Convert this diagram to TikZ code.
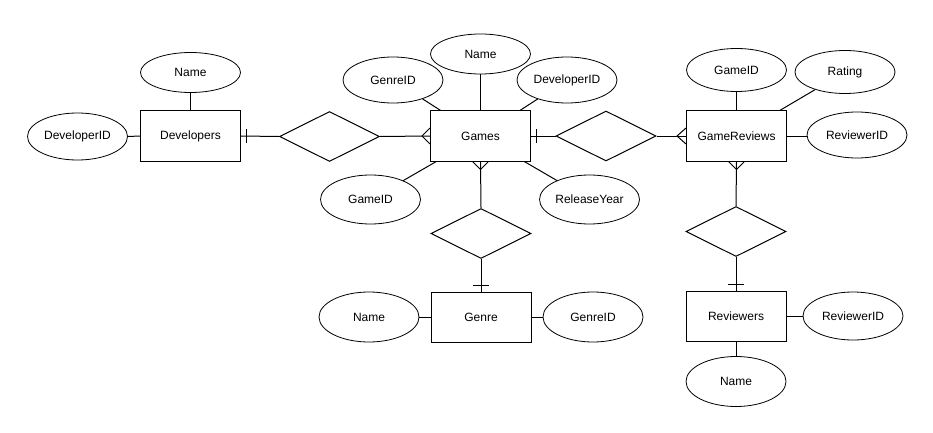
\documentclass[tikz,border=0pt]{standalone}
\usepackage{fontspec}
\setmainfont{Liberation Sans}
\usetikzlibrary{shapes.geometric,calc}
\begin{document}
\begin{tikzpicture}[x=1pt,y=-1pt,
  every node/.style={font=\fontsize{12}{14}\selectfont},
  entity/.style={draw, line width=1pt, rectangle, minimum width=100pt, minimum height=50pt, inner sep=0pt},
  attr/.style={draw, line width=0.8pt, ellipse, minimum width=100pt, inner sep=0pt},
  rel/.style={draw, line width=1pt, diamond, minimum width=100pt, minimum height=50pt, inner sep=0pt},
  conn/.style={line width=1pt}]
\useasboundingbox[fill=white] (0,0) rectangle (933,433);

% entities
\node[entity] (dev) at (190.5,136) {Developers};
\node[entity] (games) at (480.5,136) {Games};
\node[entity] (gr) at (736.5,136) {GameReviews};
\node[entity] (genre) at (481,317) {Genre};
\node[entity] (rev) at (736,316) {Reviewers};

% relationships
\node[rel] (r1) at (329.5,136.5) {};
\node[rel] (r2) at (606,136) {};
\node[rel] (r3) at (481,233.5) {};
\node[rel] (r4) at (736,231.5) {};

% attributes
\node[attr, minimum height=40pt] (devName) at (190.5,72.5) {Name};
\node[attr, minimum height=47pt] (devID) at (77.5,136.5) {DeveloperID};
\node[attr, minimum height=46pt] (gGenreID) at (393,80) {GenreID};
\node[attr, minimum height=40pt] (gName) at (480.5,54) {Name};
\node[attr, minimum height=46pt] (gDevID) at (567,80) {DeveloperID};
\node[attr, minimum height=49pt] (gGameID) at (370.5,199.5) {GameID};
\node[attr, minimum height=49pt] (gRel) at (589.5,199.5) {ReleaseYear};
\node[attr, minimum height=43pt] (grGameID) at (736.5,70) {GameID};
\node[attr, minimum height=43pt] (grRating) at (845,72) {Rating};
\node[attr, minimum height=46pt] (grRevID) at (857,135) {ReviewerID};
\node[attr, minimum height=50pt] (genName) at (369,317) {Name};
\node[attr, minimum height=50pt] (genID) at (593,317) {GenreID};
\node[attr, minimum height=48pt] (revID) at (853,316) {ReviewerID};
\node[attr, minimum height=50pt] (revName) at (736,381.5) {Name};

% attribute connectors
\draw[conn] (devName) -- (dev);
\draw[conn] (devID.east) -- (dev.west);
\draw[conn] (gGenreID) -- (games);
\draw[conn] (gName) -- (games);
\draw[conn] (gDevID) -- (games);
\draw[conn] (gGameID) -- (games);
\draw[conn] (gRel) -- (games);
\draw[conn] (grGameID) -- (gr);
\draw[conn] (grRating) -- (gr);
\draw[conn] (gr.east) -- (grRevID.west |- gr.east);
\draw[conn] (genName.east) -- (genre.west);
\draw[conn] (genre.east) -- (genID.west);
\draw[conn] (rev.east) -- (revID.west);
\draw[conn] (rev) -- (revName);

% relationship connectors
\draw[conn] (dev.east) -- (r1.west);
\draw[conn] ($(dev.east)+(5,-7)$) -- ($(dev.east)+(5,7)$);
\draw[conn] (r1.east) -- (games.west);
\draw[conn] ($(games.west)+(0,-8)$) -- ($(games.west)+(-8,0)$) -- ($(games.west)+(0,8)$);

\draw[conn] (games.east) -- (r2.west);
\draw[conn] ($(games.east)+(5,-7)$) -- ($(games.east)+(5,7)$);
\draw[conn] (r2.east) -- (gr.west);
\draw[conn] ($(gr.west)+(0,-8)$) -- ($(gr.west)+(-9,0)$) -- ($(gr.west)+(0,8)$);

\draw[conn] (games.south) -- (r3.north);
\draw[conn] ($(games.south)+(-8,0)$) -- ($(games.south)+(0,8)$) -- ($(games.south)+(8,0)$);
\draw[conn] (r3.south) -- (genre.north);
\draw[conn] ($(genre.north)+(-8,-6)$) -- ($(genre.north)+(8,-6)$);

\draw[conn] (gr.south) -- (r4.north);
\draw[conn] ($(gr.south)+(-8,0)$) -- ($(gr.south)+(0,8)$) -- ($(gr.south)+(8,0)$);
\draw[conn] (r4.south) -- (rev.north);
\draw[conn] ($(rev.north)+(-8,-6)$) -- ($(rev.north)+(8,-6)$);
\end{tikzpicture}
\end{document}
